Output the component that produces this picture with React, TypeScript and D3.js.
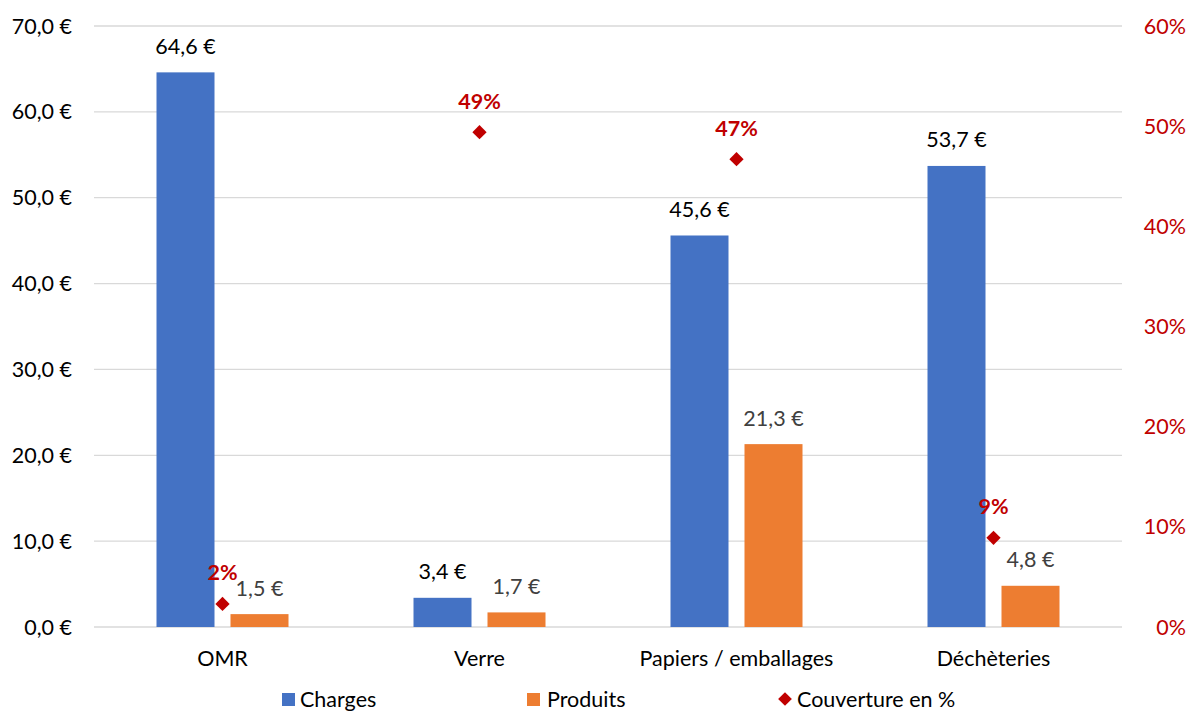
import React, { useEffect, useRef } from 'react';
import * as d3 from 'd3';

const categories = ['OMR', 'Verre', 'Papiers / emballages', 'Déchèteries'];
const charges = [64.6, 3.4, 45.6, 53.7];
const produits = [1.5, 1.7, 21.3, 4.8];
const couverture = [0.023, 0.494, 0.467, 0.089];
const leftTicks = [0, 10, 20, 30, 40, 50, 60, 70];
const rightTicks = [0, 0.1, 0.2, 0.3, 0.4, 0.5, 0.6];

const W = 1190;
const H = 711;
const FONT = 'Lato, "Open Sans", sans-serif';
const FS = 21.5;
const BLUE = '#4472c4';
const ORANGE = '#ed7d31';
const RED = '#c00000';

const fmtEuro = (v: number) => `${v.toFixed(1).replace('.', ',')} €`;

const App: React.FC = () => {
  const svgRef = useRef<SVGSVGElement>(null);

  useEffect(() => {
    const svg = d3.select(svgRef.current);
    svg.selectAll('*').remove();

    const left = 94, right = 1122, top = 26, bottom = 627;

    const x = d3.scaleBand().domain(categories).range([left, right]);
    const y = d3.scaleLinear().domain([0, 70]).range([bottom, top]);
    const y2 = d3.scaleLinear().domain([0, 0.6]).range([bottom, top]);

    const barW = 58;
    const gap = 16;

    // gridlines
    svg.append('g').selectAll('line').data(leftTicks).join('line')
      .attr('x1', left).attr('x2', right)
      .attr('y1', d => y(d)).attr('y2', d => y(d))
      .attr('stroke', '#d9d9d9').attr('stroke-width', 1.3);

    // left axis labels
    svg.append('g').selectAll('text').data(leftTicks).join('text')
      .attr('x', 72).attr('y', d => y(d)).attr('dy', '0.35em')
      .attr('text-anchor', 'end')
      .attr('font-family', FONT).attr('font-size', FS).attr('fill', '#000')
      .text(d => fmtEuro(d));

    // right axis labels
    svg.append('g').selectAll('text').data(rightTicks).join('text')
      .attr('x', 1186).attr('y', d => y2(d)).attr('dy', '0.35em')
      .attr('text-anchor', 'end')
      .attr('font-family', FONT).attr('font-size', FS).attr('fill', RED)
      .text(d => `${Math.round(d * 100)}%`);

    // category labels
    svg.append('g').selectAll('text').data(categories).join('text')
      .attr('x', d => (x(d) ?? 0) + x.bandwidth() / 2).attr('y', 658).attr('dy', '0.35em')
      .attr('text-anchor', 'middle')
      .attr('font-family', FONT).attr('font-size', FS).attr('fill', '#000')
      .text(d => d);

    const cx = (i: number) => (x(categories[i]) ?? 0) + x.bandwidth() / 2;

    // charges bars
    svg.append('g').selectAll('rect').data(charges).join('rect')
      .attr('x', (_d, i) => cx(i) - gap / 2 - barW)
      .attr('y', d => y(d)).attr('width', barW).attr('height', d => bottom - y(d))
      .attr('fill', BLUE);
    svg.append('g').selectAll('text').data(charges).join('text')
      .attr('x', (_d, i) => cx(i) - gap / 2 - barW / 2).attr('y', d => y(d) - 26).attr('dy', '0.35em')
      .attr('text-anchor', 'middle')
      .attr('font-family', FONT).attr('font-size', FS).attr('fill', '#000')
      .text(d => fmtEuro(d));

    // produits bars
    svg.append('g').selectAll('rect').data(produits).join('rect')
      .attr('x', (_d, i) => cx(i) + gap / 2)
      .attr('y', d => y(d)).attr('width', barW).attr('height', d => bottom - y(d))
      .attr('fill', ORANGE);
    svg.append('g').selectAll('text').data(produits).join('text')
      .attr('x', (_d, i) => cx(i) + gap / 2 + barW / 2).attr('y', d => y(d) - 26).attr('dy', '0.35em')
      .attr('text-anchor', 'middle')
      .attr('font-family', FONT).attr('font-size', FS).attr('fill', '#404040')
      .text(d => fmtEuro(d));

    // couverture diamonds
    const diamond = d3.symbol().type(d3.symbolDiamond2).size(130);
    svg.append('g').selectAll('path').data(couverture).join('path')
      .attr('d', diamond)
      .attr('transform', (d, i) => `translate(${cx(i)},${y2(d)})`)
      .attr('fill', RED);
    svg.append('g').selectAll('text').data(couverture).join('text')
      .attr('x', (_d, i) => cx(i)).attr('y', d => y2(d) - 31).attr('dy', '0.35em')
      .attr('text-anchor', 'middle')
      .attr('font-family', FONT).attr('font-size', FS).attr('font-weight', 'bold')
      .attr('fill', RED)
      .text(d => `${Math.round(d * 100)}%`);

    // legend
    const lg = svg.append('g').attr('font-family', FONT).attr('font-size', FS);
    lg.append('rect').attr('x', 282).attr('y', 693).attr('width', 13).attr('height', 13).attr('fill', BLUE);
    lg.append('text').attr('x', 300).attr('y', 699).attr('dy', '0.35em').text('Charges');
    lg.append('rect').attr('x', 527).attr('y', 693).attr('width', 13).attr('height', 13).attr('fill', ORANGE);
    lg.append('text').attr('x', 547).attr('y', 699).attr('dy', '0.35em').text('Produits');
    lg.append('path').attr('d', d3.symbol().type(d3.symbolDiamond2).size(120))
      .attr('transform', 'translate(785,699)').attr('fill', RED);
    lg.append('text').attr('x', 797).attr('y', 699).attr('dy', '0.35em').text('Couverture en %');
  }, []);

  return (
    <svg ref={svgRef} width={W} height={H} style={{ position: 'absolute', left: 0, top: 0, background: '#fff' }} />
  );
};

export default App;
